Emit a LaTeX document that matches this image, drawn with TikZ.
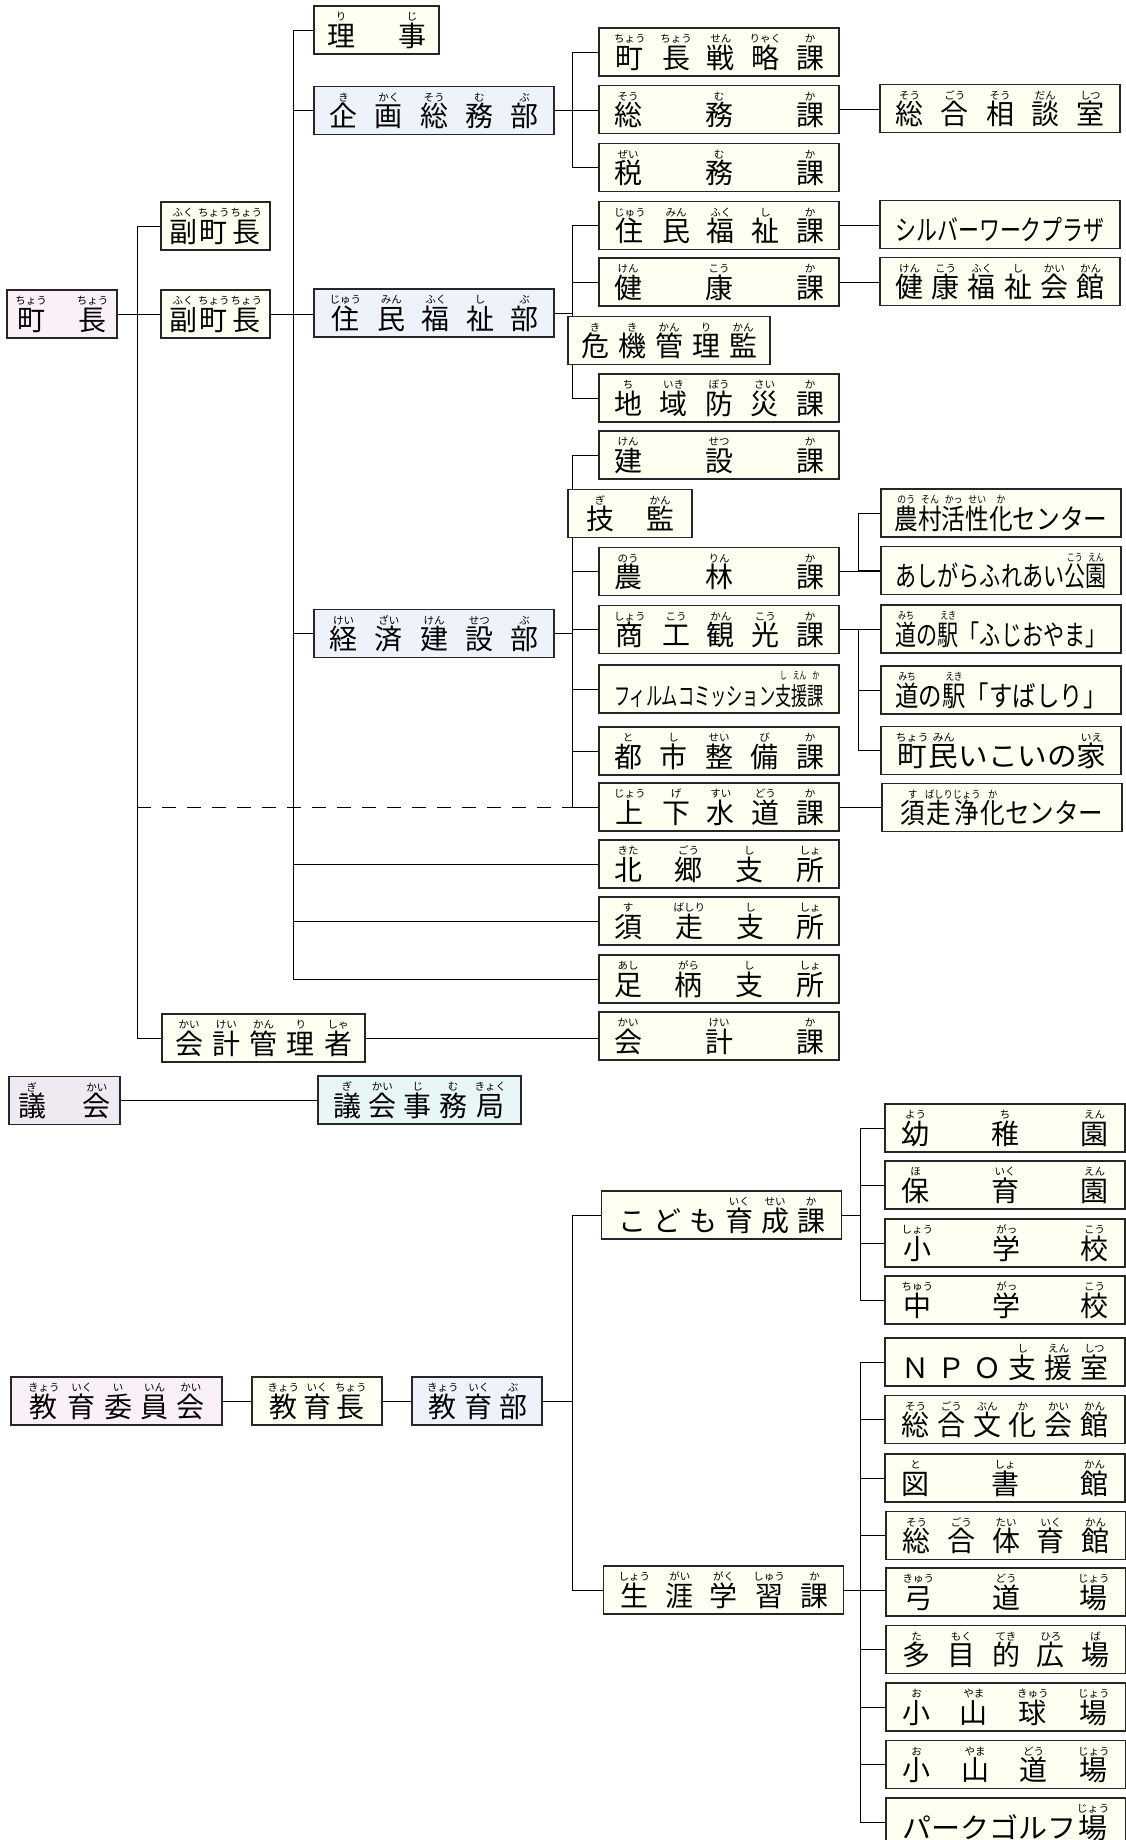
\documentclass[tikz,border=0pt]{standalone}
\usepackage{fontspec}
\usepackage{graphicx}
\newfontfamily\jpfont{Noto Sans CJK JP}
\usetikzlibrary{backgrounds}

\definecolor{cream}{HTML}{FFFFF2}
\definecolor{paleblue}{HTML}{EEF2FB}
\definecolor{palepink}{HTML}{F9F0F8}
\definecolor{lilac}{HTML}{EFEAF1}
\definecolor{palecyan}{HTML}{E8F6F8}

% furigana over one character
\newcommand\rbfont{\fontsize{10.5}{11}\selectfont}
\newcommand\rb[2]{\leavevmode\vbox{\offinterlineskip\halign{\hfil##\hfil\cr
  {\rbfont\vrule height 8pt depth 1.5pt width 0pt #2}\cr
  \vrule height 24pt width 0pt #1\cr}}}
\newcommand\kj[2]{\rb{#1}{#2}\hfill}
\newcommand\spread[2]{\hbox to #1pt{#2\unskip}}
\newcommand\squeeze[2]{\resizebox{#1pt}{\height}{#2}}

\begin{document}
\begin{tikzpicture}[x=1pt, y=-1pt,
    every node/.style = {font=\jpfont\fontsize{28}{30}\selectfont},
    post/.style = {draw=black!85, line width=1.4pt, fill=#1, inner sep=0pt,
      minimum height=48pt, text height=34pt, text depth=2pt},
    ka/.style = {post=cream, minimum width=240pt},
    bu/.style = {post=paleblue, minimum width=240pt}]
  \useasboundingbox (0,0) rectangle (1126,1840);
  \clip (0,0) rectangle (1126,1840);

  % mayor and deputies
  \node (chocho) [post=palepink, minimum width=110pt] at (62,314) {\spread{93}{\kj{町}{ちょう}\kj{長}{ちょう}}};
  \node (fuku1) [post=cream, minimum width=109pt] at (215.5,226) {\spread{93}{\kj{副}{ふく}\kj{町}{ちょう}\kj{長}{ちょう}}};
  \node (fuku2) [post=cream, minimum width=109pt] at (215.5,314) {\spread{93}{\kj{副}{ふく}\kj{町}{ちょう}\kj{長}{ちょう}}};
  \node (riji) [post=cream, minimum width=125pt] at (376.5,30) {\spread{99}{\kj{理}{り}\kj{事}{じ}}};
  \node (kikaku) [bu] at (434,110.5) {\spread{209}{\kj{企}{き}\kj{画}{かく}\kj{総}{そう}\kj{務}{む}\kj{部}{ぶ}}};
  \node (jumin) [bu] at (434,313) {\spread{209}{\kj{住}{じゅう}\kj{民}{みん}\kj{福}{ふく}\kj{祉}{し}\kj{部}{ぶ}}};
  \node (keizai) [bu] at (434,633.5) {\spread{209}{\kj{経}{けい}\kj{済}{ざい}\kj{建}{けん}\kj{設}{せつ}\kj{部}{ぶ}}};
  \node (kaikeikanri) [post=cream, minimum width=203pt] at (263.5,1038) {\spread{177}{\kj{会}{かい}\kj{計}{けい}\kj{管}{かん}\kj{理}{り}\kj{者}{しゃ}}};

  % sections
  \node (choryaku) [ka] at (719,52) {\spread{210}{\kj{町}{ちょう}\kj{長}{ちょう}\kj{戦}{せん}\kj{略}{りゃく}\kj{課}{か}}};
  \node (somu) [ka] at (719,109.5) {\spread{210}{\kj{総}{そう}\kj{務}{む}\kj{課}{か}}};
  \node (zeimu) [ka] at (719,167.5) {\spread{210}{\kj{税}{ぜい}\kj{務}{む}\kj{課}{か}}};
  \node (jfuku) [ka] at (719,225.5) {\spread{210}{\kj{住}{じゅう}\kj{民}{みん}\kj{福}{ふく}\kj{祉}{し}\kj{課}{か}}};
  \node (kenko) [ka] at (719,282) {\spread{210}{\kj{健}{けん}\kj{康}{こう}\kj{課}{か}}};
  \node (kiki) [post=cream, minimum width=202pt] at (669,340.5) {\spread{176}{\kj{危}{き}\kj{機}{き}\kj{管}{かん}\kj{理}{り}\kj{監}{かん}}};
  \node (bosai) [ka] at (719,398) {\spread{210}{\kj{地}{ち}\kj{域}{いき}\kj{防}{ぼう}\kj{災}{さい}\kj{課}{か}}};
  \node (kensetsu) [ka] at (719,455) {\spread{210}{\kj{建}{けん}\kj{設}{せつ}\kj{課}{か}}};
  \node (gikan) [post=cream, minimum width=124pt] at (630,513.5) {\spread{88}{\kj{技}{ぎ}\kj{監}{かん}}};
  \node (norin) [ka] at (719,571.5) {\spread{210}{\kj{農}{のう}\kj{林}{りん}\kj{課}{か}}};
  \node (shoko) [ka] at (719,629.5) {\spread{210}{\kj{商}{しょう}\kj{工}{こう}\kj{観}{かん}\kj{光}{こう}\kj{課}{か}}};
  \node (film) [ka] at (719,689) {\squeeze{210}{\fontsize{25}{27}\selectfont フィルムコミッション\rb{支}{し}\rb{援}{えん}\rb{課}{か}}};
  \node (toshi) [ka] at (719,751) {\spread{210}{\kj{都}{と}\kj{市}{し}\kj{整}{せい}\kj{備}{び}\kj{課}{か}}};
  \node (gesui) [ka] at (719,807) {\spread{210}{\kj{上}{じょう}\kj{下}{げ}\kj{水}{すい}\kj{道}{どう}\kj{課}{か}}};
  \node (kitago) [ka] at (719,864) {\spread{210}{\kj{北}{きた}\kj{郷}{ごう}\kj{支}{し}\kj{所}{しょ}}};
  \node (subashiri) [ka] at (719,921) {\spread{210}{\kj{須}{す}\kj{走}{ばしり}\kj{支}{し}\kj{所}{しょ}}};
  \node (ashigara) [ka] at (719,979) {\spread{210}{\kj{足}{あし}\kj{柄}{がら}\kj{支}{し}\kj{所}{しょ}}};
  \node (kaikei) [ka] at (719,1036) {\spread{210}{\kj{会}{かい}\kj{計}{けい}\kj{課}{か}}};

  % facilities
  \node (sodan) [ka] at (1000,108.5) {\spread{209}{\kj{総}{そう}\kj{合}{ごう}\kj{相}{そう}\kj{談}{だん}\kj{室}{しつ}}};
  \node (silver) [ka] at (1000,224.5) {\squeeze{209}{シルバーワークプラザ}};
  \node (fkaikan) [ka] at (1000,281.5) {\spread{209}{\kj{健}{けん}\kj{康}{こう}\kj{福}{ふく}\kj{祉}{し}\kj{会}{かい}\kj{館}{かん}}};
  \node (noson) [ka] at (1001,513) {\squeeze{213}{\rb{農}{のう}\rb{村}{そん}\rb{活}{かっ}\rb{性}{せい}\rb{化}{か}センター}};
  \node (fureai) [ka] at (1001,570.5) {\squeeze{211}{あしがらふれあい\rb{公}{こう}\rb{園}{えん}}};
  \node (fujioyama) [ka] at (1001,629) {\squeeze{211}{\rb{道}{みち}の\rb{駅}{えき}「ふじおやま」}};
  \node (sbeki) [ka] at (1001,690) {\squeeze{211}{\rb{道}{みち}の\rb{駅}{えき}「すばしり」}};
  \node (ikoi) [ka] at (1001,750.5) {\squeeze{211}{\rb{町}{ちょう}\rb{民}{みん}いこいの\rb{家}{いえ}}};
  \node (jokasen) [ka] at (1002,807.5) {\squeeze{203}{\rb{須}{す}\rb{走}{ばしり}\rb{浄}{じょう}\rb{化}{か}センター}};

  % council
  \node (gikai) [post=lilac, minimum width=111pt] at (64.5,1100.5) {\spread{93}{\kj{議}{ぎ}\kj{会}{かい}}};
  \node (jimukyoku) [post=palecyan, minimum width=203pt] at (419.5,1100) {\spread{173}{\kj{議}{ぎ}\kj{会}{かい}\kj{事}{じ}\kj{務}{む}\kj{局}{きょく}}};

  % board of education
  \node (iinkai) [post=palepink, minimum width=211pt] at (116.5,1401) {\spread{177}{\kj{教}{きょう}\kj{育}{いく}\kj{委}{い}\kj{員}{いん}\kj{会}{かい}}};
  \node (kyoikucho) [post=cream, minimum width=130pt] at (317,1401) {\spread{99}{\kj{教}{きょう}\kj{育}{いく}\kj{長}{ちょう}}};
  \node (kyoikubu) [post=paleblue, minimum width=130pt] at (477,1401) {\spread{100}{\kj{教}{きょう}\kj{育}{いく}\kj{部}{ぶ}}};
  \node (kodomo) [ka] at (721.5,1215) {\spread{207}{\kj{こ}{}\kj{ど}{}\kj{も}{}\kj{育}{いく}\kj{成}{せい}\kj{課}{か}}};
  \node (shogai) [ka] at (723.5,1590) {\spread{210}{\kj{生}{しょう}\kj{涯}{がい}\kj{学}{がく}\kj{習}{しゅう}\kj{課}{か}}};
  \node (yochien) [ka] at (1005,1128) {\spread{207}{\kj{幼}{よう}\kj{稚}{ち}\kj{園}{えん}}};
  \node (hoikuen) [ka] at (1005,1185) {\spread{207}{\kj{保}{ほ}\kj{育}{いく}\kj{園}{えん}}};
  \node (shogaku) [ka] at (1005,1243) {\spread{207}{\kj{小}{しょう}\kj{学}{がっ}\kj{校}{こう}}};
  \node (chugaku) [ka] at (1005,1300) {\spread{207}{\kj{中}{ちゅう}\kj{学}{がっ}\kj{校}{こう}}};
  \node (npo) [ka] at (1005,1362) {\spread{207}{\kj{Ｎ}{}\kj{Ｐ}{}\kj{Ｏ}{}\kj{支}{し}\kj{援}{えん}\kj{室}{しつ}}};
  \node (bunka) [ka] at (1005,1419.5) {\spread{207}{\kj{総}{そう}\kj{合}{ごう}\kj{文}{ぶん}\kj{化}{か}\kj{会}{かい}\kj{館}{かん}}};
  \node (tosho) [ka] at (1005,1478) {\spread{207}{\kj{図}{と}\kj{書}{しょ}\kj{館}{かん}}};
  \node (taiiku) [ka] at (1006,1535.5) {\spread{207}{\kj{総}{そう}\kj{合}{ごう}\kj{体}{たい}\kj{育}{いく}\kj{館}{かん}}};
  \node (kyudo) [ka] at (1006,1592) {\spread{207}{\kj{弓}{きゅう}\kj{道}{どう}\kj{場}{じょう}}};
  \node (hiroba) [ka] at (1006,1649.5) {\spread{207}{\kj{多}{た}\kj{目}{もく}\kj{的}{てき}\kj{広}{ひろ}\kj{場}{ば}}};
  \node (kyujo) [ka] at (1006,1707) {\spread{207}{\kj{小}{お}\kj{山}{やま}\kj{球}{きゅう}\kj{場}{じょう}}};
  \node (dojo) [ka] at (1006,1764.5) {\spread{207}{\kj{小}{お}\kj{山}{やま}\kj{道}{どう}\kj{場}{じょう}}};
  \node (park) [ka] at (1006,1822) {\squeeze{207}{パークゴルフ\rb{場}{じょう}}};

  \coordinate (busA) at (137,0);
  \coordinate (busB) at (293,0);
  \coordinate (busC) at (572,0);
  \coordinate (busD) at (858,0);
  \coordinate (busF) at (860,0);

  \begin{scope}[on background layer, line width=1.2pt, black!85]
    \draw (chocho.east) -- (fuku2.west);
    \draw (fuku1.west) -- (fuku1.west -| busA) |- (kaikeikanri.west);
    \draw [dash pattern=on 14pt off 11pt] (busA |- gesui.west) -- (busC |- gesui.west);
    \draw (kaikeikanri.east) -- (kaikeikanri.east -| kaikei.west);
    \draw (fuku2.east) -- (fuku2.east -| jumin.west);
    \draw (riji.west) -- (riji.west -| busB) |- (ashigara.west);
    \foreach \n in {kikaku, keizai, kitago, subashiri}
      \draw (busB |- \n.west) -- (\n.west);
    % kikaku
    \draw (kikaku.east) -- (kikaku.east -| somu.west);
    \draw (choryaku.west) -- (choryaku.west -| busC) |- (zeimu.west);
    \draw (somu.east) -- (somu.east -| sodan.west);
    % jumin
    \draw (jumin.east) -- (jumin.east -| busC);
    \draw (jfuku.west) -- (jfuku.west -| busC) |- (bosai.west);
    \draw (busC |- kenko.west) -- (kenko.west);
    \draw (jfuku.east) -- (jfuku.east -| silver.west);
    \draw (kenko.east) -- (kenko.east -| fkaikan.west);
    % keizai
    \draw (keizai.east) -- (keizai.east -| busC);
    \draw (kensetsu.west) -- (kensetsu.west -| busC) |- (gesui.west);
    \foreach \n in {norin, shoko, film, toshi}
      \draw (busC |- \n.west) -- (\n.west);
    \draw (norin.east) -- (norin.east -| fureai.west);
    \draw (noson.west) -- (noson.west -| busD) |- (fureai.west);
    \draw (shoko.east) -- (shoko.east -| fujioyama.west);
    \draw (fujioyama.west -| busD) |- (ikoi.west);
    \draw (busD |- sbeki.west) -- (sbeki.west);
    \draw (gesui.east) -- (gesui.east -| jokasen.west);
    % council, education
    \draw (gikai.east) -- (gikai.east -| jimukyoku.west);
    \draw (iinkai.east) -- (kyoikucho.west);
    \draw (kyoikucho.east) -- (kyoikubu.west);
    \draw (kyoikubu.east) -- (kyoikubu.east -| busC);
    \draw (kodomo.west) -- (kodomo.west -| busC) |- (shogai.west);
    \draw (kodomo.east) -- (kodomo.east -| busF);
    \draw (yochien.west) -- (yochien.west -| busF) |- (chugaku.west);
    \foreach \n in {hoikuen, shogaku}
      \draw (busF |- \n.west) -- (\n.west);
    \draw (shogai.east) -- (shogai.east -| kyudo.west);
    \draw (npo.west) -- (npo.west -| busF) |- (park.west);
    \foreach \n in {bunka, tosho, taiiku, hiroba, kyujo, dojo}
      \draw (busF |- \n.west) -- (\n.west);
  \end{scope}
\end{tikzpicture}
\end{document}
